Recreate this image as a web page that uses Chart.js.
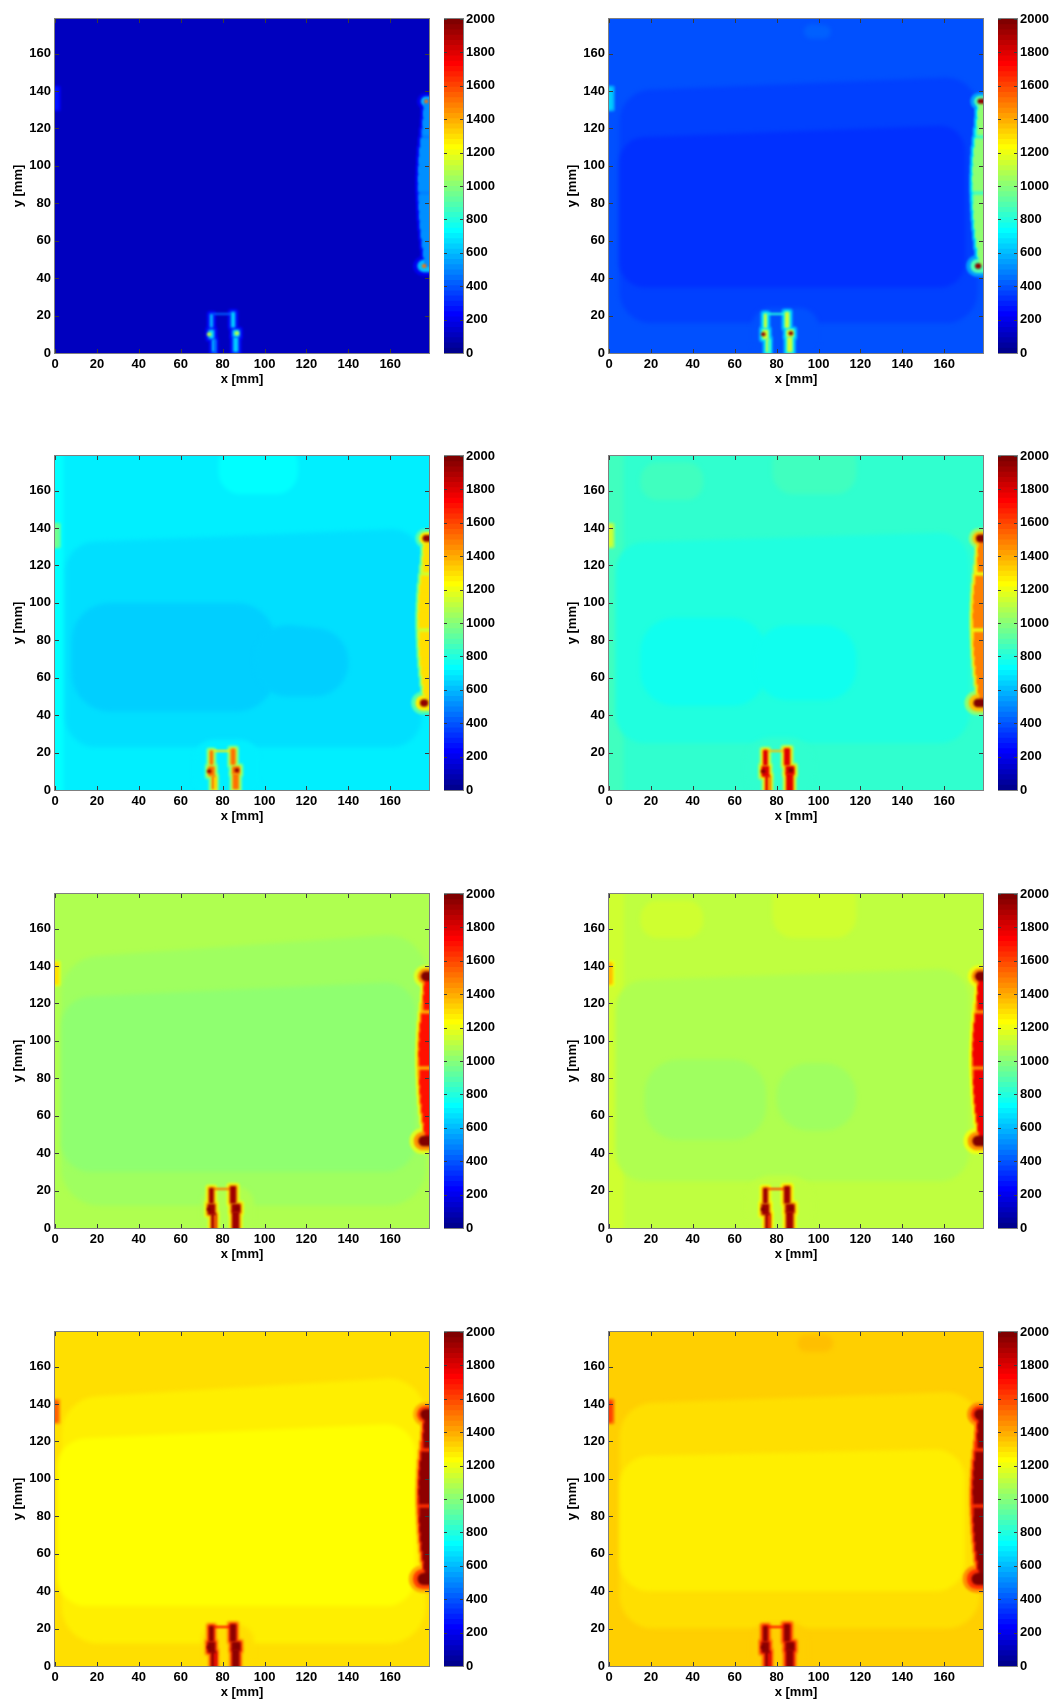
<!DOCTYPE html>
<html><head><meta charset="utf-8">
<style>html,body{margin:0;padding:0;background:#fff}#page{position:relative;width:1053px;height:1703px;overflow:hidden}canvas{position:absolute;display:block}</style>
<script src="https://cdn.jsdelivr.net/npm/chart.js@4"></script>
</head><body><div id="page"></div>
<script>
// Axes
const xTickStep = 20, yTickStep = 20, axisMax = 178.5;
const colourMin = 0, colourMax = 2000, colourStep = 200;
const xTitle = 'x [mm]', yTitle = 'y [mm]';

// Plateaus of constant value, painted in order:
// [xFrom, xTo, yFrom, yTopAtXFrom, yTopAtXTo, value, cornerRadius]  (all in mm / colour units)
const field1 = [[0,178.5,0,178.5,178.5,110,0]];
const field2 = [[0,178.5,0,178.5,178.5,390,0],[93,106,168,176,175,420,4],[5,176,16,140,148,360,15],[68,100,0,24,24,390,9],[5,170,35,115,122,330,12]];
const field3 = [[0,178.5,0,178.5,178.5,700,0],[0,4,0,178.5,178.5,735,0],[78,116,158,182,182,735,12],[5,175,23,132,140,670,14],[66,98,0,27,27,700,10],[8,105,42,100,100,640,18],[95,140,50,90,85,640,16]];
const field4 = [[0,178.5,0,178.5,178.5,827,0],[0,7,0,178.5,178.5,860,0],[78,118,158,182,182,860,10],[15,45,155,175,175,845,8],[3,172,25,132,138,796,14],[65,98,0,28,28,827,12],[15,75,45,92,92,765,16],[70,118,48,88,88,765,15]];
const field5 = [[0,178.5,0,178.5,178.5,1077,0],[3,177,12,144,158,1046,18],[70,95,0,22,22,1077,8],[3,172,30,123,132,1015,14]];
const field6 = [[0,178.5,0,178.5,178.5,1109,0],[0,7,0,178.5,178.5,1140,0],[78,118,155,182,182,1140,10],[15,45,155,175,175,1125,8],[3,172,25,132,139,1077,14],[65,98,0,28,28,1109,12],[17,75,47,90,90,1045,16],[80,118,52,88,88,1060,15]];
const field7 = [[0,178.5,0,178.5,178.5,1295,0],[3,177,12,143,155,1265,18],[70,95,0,22,22,1295,8],[1,172,32,121,130,1235,14]];
const field8 = [[0,178.5,0,178.5,178.5,1328,0],[90,107,168,177,177,1360,4],[5,177,20,140,147,1295,16],[68,95,0,23,23,1328,8],[5,170,40,112,116,1265,14]];
const fields = [field1,field2,field3,field4,field5,field6,field7,field8];

// Shape of the hot features, shared by all panels, in mm.
// Edge strip rows: [xLeft, yFrom, yTo]; the strip body skips the two lighter notches.
const edgeRight = 178.8;
const edgeRows = [[176.3,128,134],[176.1,123,128],[175.8,118,123],[175.2,113,118],[174.7,108,113],[174.2,103,108],[174,98,103],[173.8,93,98],[173.7,88,93],[173.8,83,88],[174,78,83],[174.2,73,78],[174.5,68,73],[174.9,63,68],[175.4,58,63],[176,53,58],[176.5,48,53]];
const edgeNotches = [[113,118],[83,88]];
const rowOverlap = 1.6;
const edgeBlobs = [[177.2,134.5],[176.2,46.5]];
const legStrips = [[74.5,77,0,8],[72.8,76.5,7,13],[73.5,75.8,13,21.5],[84.5,88,0,9],[84.2,88.6,8,13],[83.5,86.5,13,22.5]];
const legInner = [75.9,77,0,7];
const legBridge = [75.5,84,20.3,21.4];
const legSpots = [[73.6,10],[86.8,10.5]];
const cornerSpot = [0,1.8,130,142];

// Value of each hot feature in panels 1..8
const haloOuter  = [ 200, 560, 880,1000,1180,1200,1400,1450];
const haloInner  = [ 330, 700,1100,1250,1350,1350,1600,1650];
const neckValue  = [ 480, 850,1150,1200,1400,1450,1650,1650];
const stripValue = [ 520,1030,1300,1480,1700,1760,1950,1950];
const blobValue  = [1500,1950,1960,1980,1980,1980,1980,1980];
const blobGlow   = [ 620, 900,1250,1350,1450,1450,1600,1650];
const blobRadius = [ 1.1, 1.5, 2.0, 2.3, 2.8, 2.8, 3.2, 3.2];
const legValue   = [ 640,1150,1500,1800,1920,1920,1950,1950];
const legInset   = [ 0.6, 0.4, 0.3,   0,   0,   0,   0,   0];
const spotValue  = [1100,1950,1950,1980,1980,1980,1980,1980];
const bridgeValue= [ 420, 800,1250,1350,1500,1600,1700,1700];
const cornerValue= [ 270, 650, 950,1150,1300,1350,1550,1600];

// Layout of the eight panels on the page
const panelLeft = [55,609], panelTop = [19,456,894,1332];
const plotW = 374, plotH = 334;

// MATLAB jet(64)
const jetTable = (() => {
  const n = 16, u = [];
  for (let i=1;i<=n;i++) u.push(i/n);
  for (let i=1;i<n;i++) u.push(1);
  for (let i=n;i>=1;i--) u.push(i/n);
  const t = Array.from({length:64},()=>[0,0,0]);
  u.forEach((val,i)=>{
    const g=8+i, r=g+n, b=g-n;
    if (r<64) t[r][0]=val;
    if (g<64) t[g][1]=val;
    if (b>=0 && b<64) t[b][2]=val;
  });
  return t.map(c=>`rgb(${c.map(v=>Math.round(v*255)).join(',')})`);
})();
const jet = v => jetTable[Math.max(0,Math.min(63,Math.floor(v/colourMax*64)))];

class ZoneElement extends Chart.Element {
  static id = 'zone';
  static defaults = {};
  draw(ctx){
    const {px0,px1,py0,pyL,pyR,rad,color} = this;
    ctx.fillStyle = color;
    ctx.beginPath();
    ctx.moveTo(px0+rad,py0);
    ctx.arcTo(px1,py0,px1,pyR,rad);
    ctx.arcTo(px1,pyR,px0,pyL,rad);
    ctx.arcTo(px0,pyL,px0,py0,rad);
    ctx.arcTo(px0,py0,px1,py0,rad);
    ctx.closePath();
    ctx.fill();
  }
}
class ZoneController extends Chart.DatasetController {
  static id = 'zone';
  static defaults = {dataElementType:'zone'};
  update(){
    const meta = this._cachedMeta, xs = meta.xScale, ys = meta.yScale, data = this.getDataset().data;
    const bleed = 8;
    meta.data.forEach((el,i)=>{
      const d = data[i];
      let px0=xs.getPixelForValue(d.x), px1=xs.getPixelForValue(d.x1);
      let py0=ys.getPixelForValue(d.y), pyL=ys.getPixelForValue(d.yL), pyR=ys.getPixelForValue(d.yR);
      const rawW=px1-px0, rawH=py0-Math.min(pyL,pyR);
      const rad=Math.min(Math.abs(xs.getPixelForValue(d.r)-xs.getPixelForValue(0)),rawW/2,rawH/2);
      if (d.x<=xs.min) px0-=bleed;
      if (d.x1>=xs.max) px1+=bleed;
      if (d.y<=ys.min) py0+=bleed;
      if (d.yL>=ys.max) pyL-=bleed;
      if (d.yR>=ys.max) pyR-=bleed;
      Object.assign(el,{px0,px1,py0,pyL,pyR,rad,color:jet(d.v),x:px0,y:py0});
    });
  }
  draw(){
    const ctx=this.chart.ctx, a=this.chart.chartArea;
    ctx.save();
    ctx.beginPath(); ctx.rect(a.left,a.top,a.width,a.height); ctx.clip();
    ctx.filter=`blur(${this.getDataset().softness}px)`;
    this._cachedMeta.data.forEach(el=>el.draw(ctx));
    ctx.restore();
  }
}
Chart.register(ZoneController, ZoneElement);

const frameAndTicks = {
  id:'frameAndTicks',
  afterDraw(chart){
    const a=chart.chartArea, ctx=chart.ctx, len=chart.options.tickInset;
    ctx.save();
    ctx.lineWidth=1;
    ctx.strokeStyle='#3a3a3a';
    ctx.beginPath();
    const mx=chart.scales.x;
    if (mx.options.display!==false) mx.ticks.forEach(t=>{
      const p=Math.round(mx.getPixelForValue(t.value))+.5;
      ctx.moveTo(p,a.bottom); ctx.lineTo(p,a.bottom-len);
      ctx.moveTo(p,a.top); ctx.lineTo(p,a.top+len);
    });
    const my=chart.scales.y;
    my.ticks.forEach(t=>{
      const p=Math.round(my.getPixelForValue(t.value))+.5;
      ctx.moveTo(a.left,p); ctx.lineTo(a.left+len,p);
      ctx.moveTo(a.right,p); ctx.lineTo(a.right-len,p);
    });
    ctx.stroke();
    ctx.strokeStyle='#7f7f7f';
    ctx.strokeRect(a.left-.5,a.top-.5,a.width+1,a.height+1);
    ctx.restore();
  }
};

const zone = (b,grow,v,r) => ({x:b[0]-grow,x1:b[1]+grow,y:b[2]-grow,yL:b[3]+grow,yR:b[3]+grow,v,r});
const disc = (c,rad,v) => ({x:c[0]-rad,x1:c[0]+rad,y:c[1]-rad,yL:c[1]+rad,yR:c[1]+rad,v,r:rad});
const rowBox = row => [row[0],edgeRight,row[1]-rowOverlap,row[2]+rowOverlap];
const inNotch = row => edgeNotches.some(n=>row[1]>=n[0] && row[2]<=n[1]);

function fieldZones(p){
  return fields[p].map(f=>({x:f[0],x1:f[1],y:f[2],yL:f[3],yR:f[4],v:f[5],r:f[6]}));
}
function hotZones(p){
  const out = [];
  const blobR = i => blobRadius[p]*(i?1:.9);
  out.push(zone(cornerSpot,1,haloOuter[p],1));
  out.push(zone(cornerSpot,0,cornerValue[p],.9));
  edgeRows.forEach(r=>out.push(zone(rowBox(r),1.6,haloOuter[p],1.2)));
  edgeBlobs.forEach((c,i)=>out.push(disc(c,blobR(i)+(i?4.2:3.4),haloOuter[p])));
  edgeRows.forEach(r=>out.push(zone(rowBox(r),.7,haloInner[p],.6)));
  edgeBlobs.forEach((c,i)=>out.push(disc(c,blobR(i)+(i?2.2:1.6),blobGlow[p])));
  legStrips.forEach(b=>out.push(zone(b,1.7-legInset[p],haloOuter[p],1.5)));
  legStrips.forEach(b=>out.push(zone(b,.8-legInset[p],haloInner[p],1)));
  edgeRows.forEach(r=>out.push(zone(rowBox(r),0,neckValue[p],0)));
  edgeRows.filter(r=>!inNotch(r)).forEach(r=>out.push(zone(rowBox(r),0,stripValue[p],0)));
  edgeBlobs.forEach((c,i)=>out.push(disc(c,blobR(i),blobValue[p])));
  out.push(zone(legBridge,0,bridgeValue[p],0));
  legStrips.forEach(b=>out.push(zone(b,-legInset[p],legValue[p],.6)));
  out.push(zone(legInner,0,bridgeValue[p],0));
  legSpots.forEach(c=>out.push(disc(c,1.1,spotValue[p])));
  return out;
}

const page=document.getElementById('page');
function addCanvas(left,top,w,h){
  const c=document.createElement('canvas');
  c.width=w;c.height=h;c.style.left=left+'px';c.style.top=top+'px';c.style.width=w+'px';c.style.height=h+'px';
  page.appendChild(c);return c;
}
const font={family:'"Liberation Sans",Arial,sans-serif',size:13,weight:'bold'};

fields.forEach((_,p)=>{
  const L=panelLeft[p%2], T=panelTop[p>>1];
  const pad=19, bottomH=45, leftW=55;
  new Chart(addCanvas(L-leftW,T-pad,leftW+plotW+6,pad+plotH+bottomH),{
    type:'zone',
    // the first dataset is painted last, so the hot features sit on top of the soft plateaus
    data:{datasets:[{data:hotZones(p),softness:.9},{data:fieldZones(p),softness:2.2}]},
    plugins:[frameAndTicks],
    options:{
      responsive:false,animation:false,devicePixelRatio:1,events:[],tickInset:4,
      layout:{padding:{top:pad,right:6,left:0,bottom:0}},
      plugins:{legend:{display:false},tooltip:{enabled:false}},
      scales:{
        x:{type:'linear',position:'bottom',min:0,max:axisMax,
          afterFit(s){s.height=bottomH;},
          grid:{display:false,drawTicks:false},border:{display:false},
          ticks:{stepSize:xTickStep,includeBounds:false,maxRotation:0,autoSkip:false,padding:4,color:'#000',font},
          title:{display:true,text:xTitle,color:'#000',font,padding:{top:0,bottom:11}}},
        y:{type:'linear',position:'left',min:0,max:axisMax,
          afterFit(s){s.width=leftW;},
          grid:{display:false,drawTicks:false},border:{display:false},
          ticks:{stepSize:yTickStep,includeBounds:false,autoSkip:false,padding:4,color:'#000',font},
          title:{display:true,text:yTitle,color:'#000',font,padding:{top:11,bottom:0}}}
      }
    }
  });
  // colour bar: 64 levels, painted top level first, each reaching down to the axis
  const cbW=19, cbRight=40, step=colourMax/64;
  const levels=Array.from({length:64},(_,k)=>({x:0,x1:1,y:0,yL:(64-k)*step,yR:(64-k)*step,v:(63-k)*step+1,r:0}));
  new Chart(addCanvas(L+plotW+15,T-pad,cbW+cbRight,pad+plotH+20),{
    type:'zone',
    data:{datasets:[{data:levels,softness:.4}]},
    plugins:[frameAndTicks],
    options:{
      responsive:false,animation:false,devicePixelRatio:1,events:[],tickInset:3,
      layout:{padding:{top:pad,right:0,left:0,bottom:20}},
      plugins:{legend:{display:false},tooltip:{enabled:false}},
      scales:{
        x:{type:'linear',display:false,min:0,max:1},
        y:{type:'linear',position:'right',min:colourMin,max:colourMax,
          afterFit(s){s.width=cbRight;},
          grid:{display:false,drawTicks:false},border:{display:false},
          ticks:{stepSize:colourStep,autoSkip:false,padding:3,color:'#000',font,callback:v=>String(v)}}
      }
    }
  });
});
</script></body></html>
